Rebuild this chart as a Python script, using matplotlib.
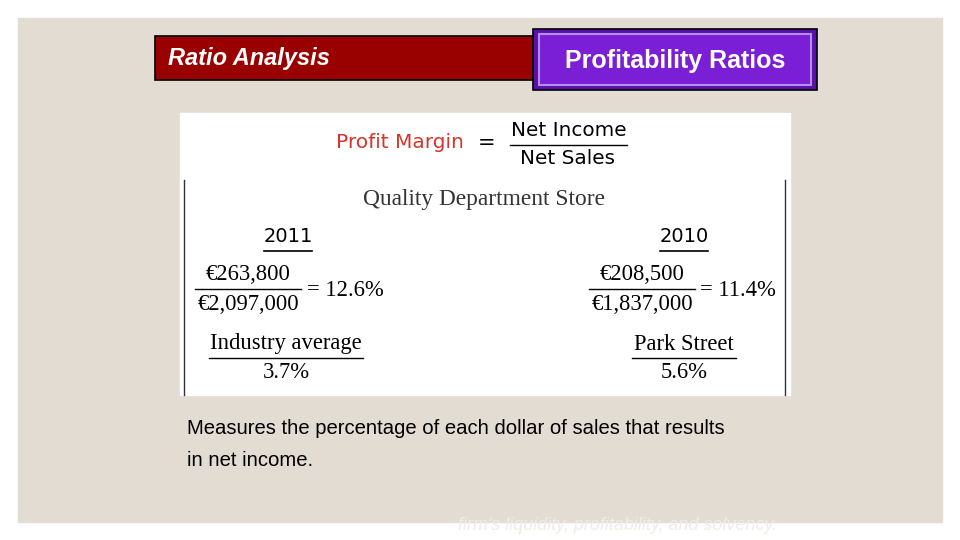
import matplotlib
matplotlib.use("Agg")
import matplotlib.pyplot as plt
from matplotlib.patches import Rectangle

years       = ["2011", "2010"]
net_income  = ["€263,800", "€208,500"]
net_sales   = ["€2,097,000", "€1,837,000"]
margins     = ["12.6%", "11.4%"]
comp_labels = ["Industry average", "Park Street"]
comp_values = ["3.7%", "5.6%"]

BEIGE = "#E2DCD2"
RED   = "#990000"
PURP  = "#7A1FD6"
SERIF = "Liberation Serif"

fig = plt.figure(figsize=(9.6, 5.4), dpi=100, facecolor="white")
ax = fig.add_axes([0, 0, 1, 1])
ax.set_xlim(0, 960); ax.set_ylim(540, 0); ax.axis("off")

ax.add_patch(Rectangle((18, 18), 924, 504, color=BEIGE))
# title boxes
ax.add_patch(Rectangle((155, 36), 380, 44, facecolor=RED, edgecolor="black", lw=1.2))
ax.text(168, 58, "Ratio Analysis", color="white", fontsize=17, fontweight="bold",
        style="italic", va="center", family="Liberation Sans")
ax.add_patch(Rectangle((533, 29), 284, 61, facecolor="#5a10a8", edgecolor="black", lw=1.2))
ax.add_patch(Rectangle((539, 34), 272, 51, facecolor=PURP, edgecolor="#b58cf0", lw=1.5))
ax.text(675, 61, "Profitability Ratios", color="white", fontsize=18, fontweight="bold",
        ha="center", va="center", family="Liberation Sans")

# white panel
ax.add_patch(Rectangle((180, 113), 610, 282, color="white"))
ax.plot([184, 184], [180, 395], color="#333333", lw=1)
ax.plot([785, 785], [180, 395], color="#333333", lw=1)
ax.text(464, 143, "Profit Margin", color="#d8342c", fontsize=14.5, ha="right", va="center")
ax.text(487, 143, "=", fontsize=15, ha="center", va="center")
ax.text(569, 131, "Net Income", fontsize=14.4, ha="center", va="center")
ax.plot([510, 627], [145, 145], color="black", lw=1)
ax.text(567, 159, "Net Sales", fontsize=14.4, ha="center", va="center")
ax.text(484, 199, "Quality Department Store", fontsize=16.8, ha="center", va="center",
        family=SERIF, color="#333333")

ycx = [288, 684]
fcx = [248, 642]
rcx = [345, 738]
ccx = [286, 684]
half = [77, 52]
for i in range(2):
    ax.text(ycx[i], 237, years[i], fontsize=14, ha="center", va="center")
    ax.plot([ycx[i] - 24, ycx[i] + 24], [251, 251], color="black", lw=1.2)
    ax.text(fcx[i], 274, net_income[i], fontsize=16.3, ha="center", va="center", family=SERIF)
    ax.plot([fcx[i] - 53, fcx[i] + 53], [289, 289], color="black", lw=1)
    ax.text(fcx[i], 304, net_sales[i], fontsize=16.3, ha="center", va="center", family=SERIF)
    ax.text(rcx[i], 290, "= " + margins[i], fontsize=16.3, ha="center", va="center", family=SERIF)
    ax.text(ccx[i], 344, comp_labels[i], fontsize=16.3, ha="center", va="center", family=SERIF)
    ax.plot([ccx[i] - half[i], ccx[i] + half[i]], [358, 358], color="black", lw=1)
    ax.text(ccx[i], 373, comp_values[i], fontsize=16.3, ha="center", va="center", family=SERIF)

ax.text(187, 429, "Measures the percentage of each dollar of sales that results", fontsize=14.6,
        va="center", family="Liberation Sans")
ax.text(187, 460, "in net income.", fontsize=14.6, va="center", family="Liberation Sans")
ax.text(458, 526, "firm's liquidity, profitability, and solvency.", fontsize=12.9, style="italic",
        color="#f0ece6", va="center", family="Liberation Sans")

fig.savefig("out.png", dpi=100)
